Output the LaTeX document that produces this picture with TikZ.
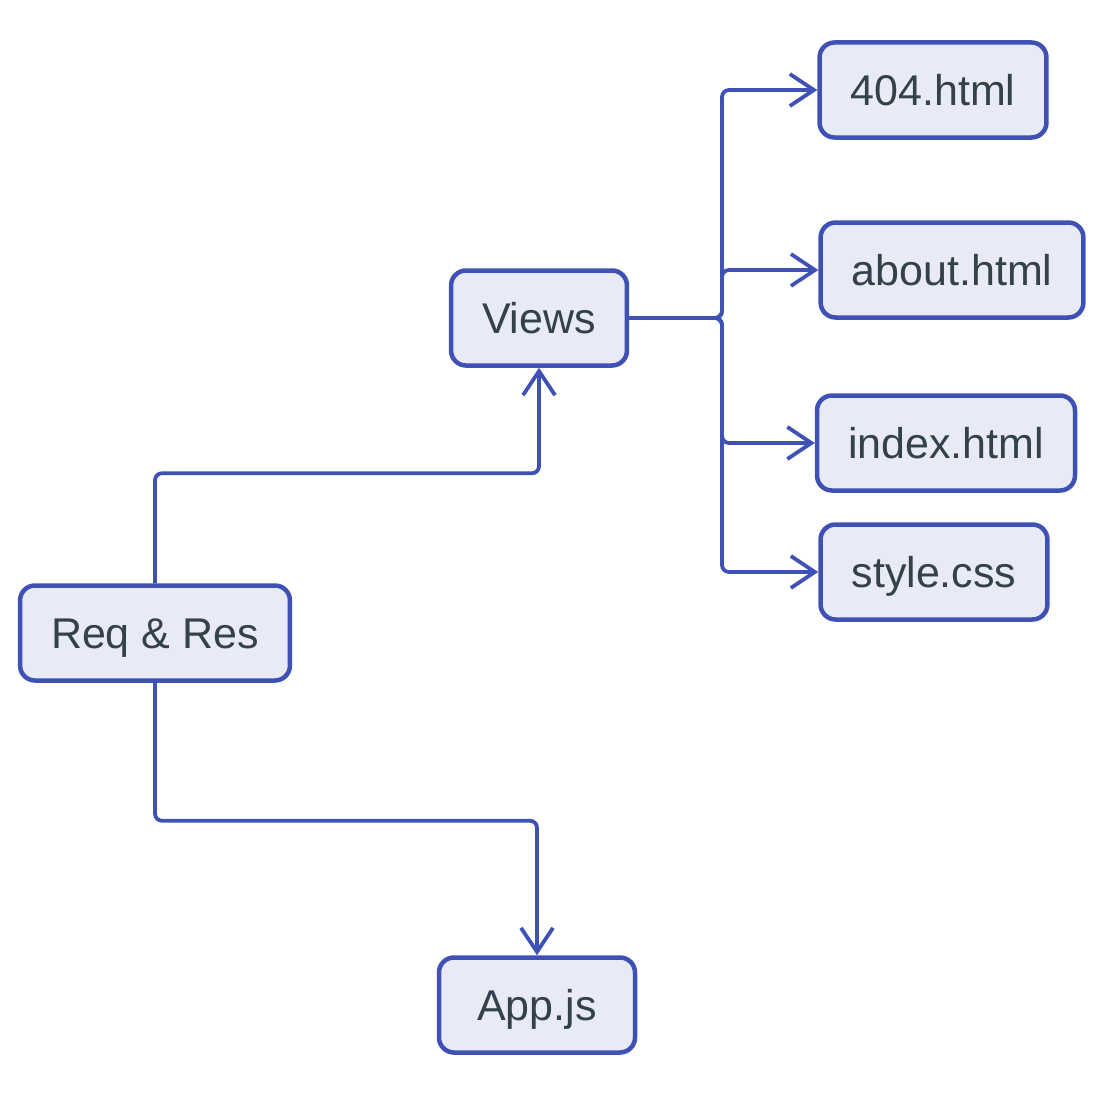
\documentclass[tikz,border=0pt]{standalone}
\usepackage{fontspec}
\setmainfont{Liberation Sans}
\usetikzlibrary{arrows.meta}
\definecolor{edgeblue}{RGB}{63,81,181}
\definecolor{boxfill}{RGB}{232,234,246}
\definecolor{txtgray}{RGB}{51,65,77}
\begin{document}
\begin{tikzpicture}
  [x=1pt,y=-1pt,
   every node/.style={draw=edgeblue,fill=boxfill,line width=4.5pt,rounded corners=15pt,
     minimum height=95pt,inner xsep=31pt,text height=31pt,text depth=0pt,
     text=txtgray,font=\fontsize{43}{50}\selectfont},
   link/.style={draw=edgeblue,line width=3.8pt,rounded corners=7pt,
     -{Straight Barb[length=24pt,width=32pt,line width=3.8pt]}}]
    \useasboundingbox (0,0) rectangle (1115,1105);

    \node (req)   at (155,633)  {Req \& Res};
    \node (views) at (539,318)  {Views};
    \node (app)   [minimum width=196pt] at (537,1005) {App.js};
    \node (f404)  at (933,90)   {404.html};
    \node (about) at (952,270)  {about.html};
    \node (index) at (946,443)  {index.html};
    \node (style) at (934,572)  {style.css};

    \coordinate (fork) at (722,318);

    \draw[link] (req.north) -- ++(0,-110) -| (views.south);
    \draw[link] (req.south) -- ++(0,138) -| (app.north);

    \foreach \to in {f404,about,index,style}
      \draw[link] (views.east) -- (fork) |- (\to.west);
\end{tikzpicture}
\end{document}
